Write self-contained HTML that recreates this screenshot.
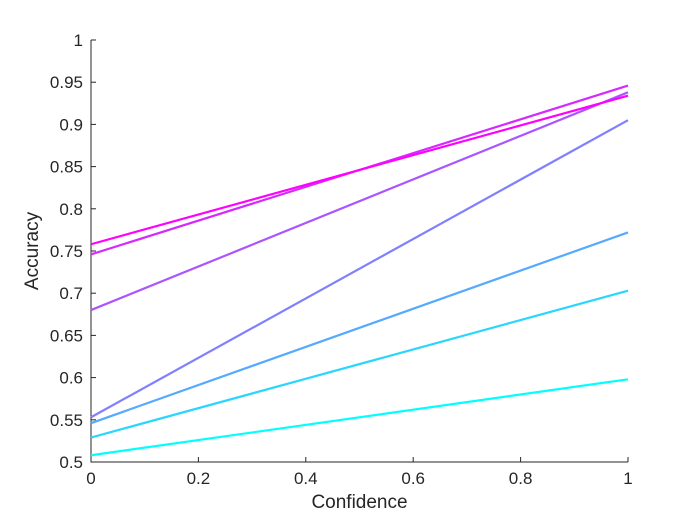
<!DOCTYPE html>
<html><head><meta charset="utf-8"><style>
body{margin:0;background:#fff;}
svg{display:block;font-family:"Liberation Sans",sans-serif;}
</style></head><body>
<svg id="chart" width="695" height="521" viewBox="0 0 695 521"></svg>
<script>
const startValues=[0.508,0.529,0.546,0.553,0.680,0.746,0.758];
const endValues=[0.598,0.703,0.772,0.905,0.938,0.946,0.934];
const lineColors=['rgb(0,255,255)','rgb(42,213,255)','rgb(85,170,255)','rgb(128,128,255)','rgb(170,85,255)','rgb(213,42,255)','rgb(255,0,255)'];
const xTicks=[0,0.2,0.4,0.6,0.8,1];
const xTickLabels=['0','0.2','0.4','0.6','0.8','1'];
const yTicks=[0.5,0.55,0.6,0.65,0.7,0.75,0.8,0.85,0.9,0.95,1];
const yTickLabels=['0.5','0.55','0.6','0.65','0.7','0.75','0.8','0.85','0.9','0.95','1'];
const X0=91,X1=628,Y0=462,Y1=40;
const sx=v=>X0+(X1-X0)*v;
const sy=v=>Y0-(Y0-Y1)*(v-0.5)/0.5;
const NS='http://www.w3.org/2000/svg';
const svg=document.getElementById('chart');
function mk(t,a,p){const e=document.createElementNS(NS,t);for(const k in a)e.setAttribute(k,a[k]);(p||svg).appendChild(e);return e;}
let ax=mk('path',{d:`M${X0},${Y1}V${Y0}H${X1}`,stroke:'#262626',fill:'none','stroke-width':1});


xTicks.forEach((v,i)=>{
 const t=mk('line',{x1:sx(v),x2:sx(v),y1:Y0,y2:Y0-5,stroke:'#262626'});
 
 
 const l=mk('text',{x:sx(v),y:Y0+22,'text-anchor':'middle','font-size':17,fill:'#262626'});
 l.textContent=xTickLabels[i];
 
 
});
yTicks.forEach((v,i)=>{
 const t=mk('line',{x1:X0,x2:X0+5,y1:sy(v),y2:sy(v),stroke:'#262626'});
 
 
 const l=mk('text',{x:X0-8,y:sy(v)+6,'text-anchor':'end','font-size':17,fill:'#262626'});
 l.textContent=yTickLabels[i];
 
 
});
startValues.forEach((s,i)=>{
 const l=mk('line',{x1:sx(0),y1:sy(s),x2:sx(1),y2:sy(endValues[i]),stroke:lineColors[i],'stroke-width':2.2});
 
 
});
const xt=mk('text',{x:(X0+X1)/2,y:508,'text-anchor':'middle','font-size':19,fill:'#262626'});
xt.textContent='Confidence';


const yt=mk('text',{x:0,y:0,'text-anchor':'middle','font-size':19,fill:'#262626',transform:`translate(38,${(Y0+Y1)/2}) rotate(-90)`});
yt.textContent='Accuracy';


</script>
</body></html>
